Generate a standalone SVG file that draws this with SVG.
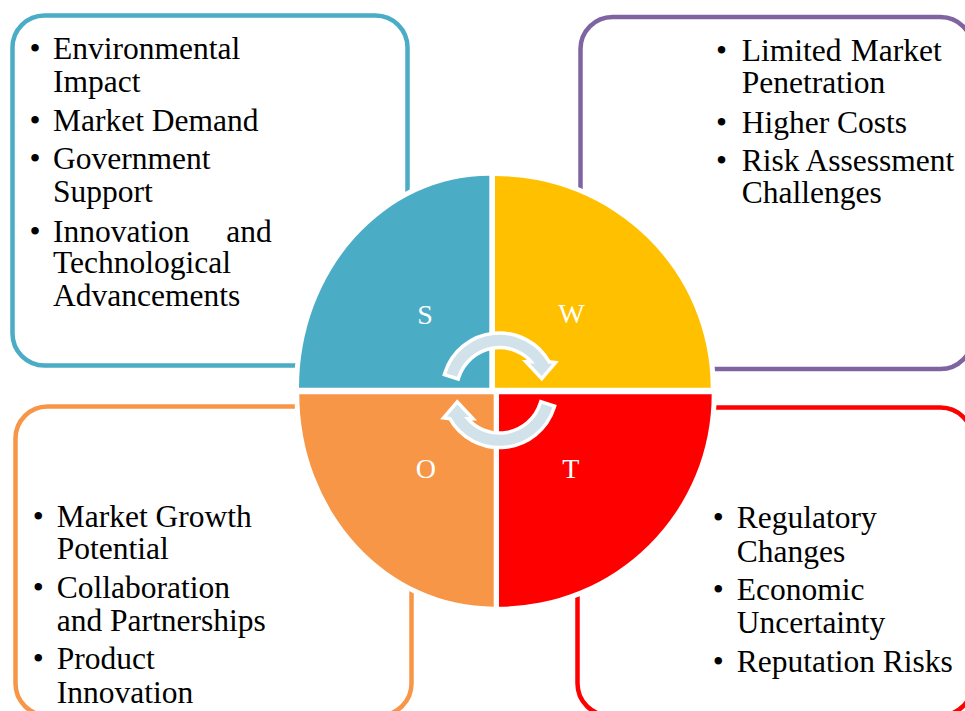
<svg xmlns="http://www.w3.org/2000/svg" width="965" height="711" viewBox="0 0 965 711">
  <style>
    .box { fill: #FFFFFF; stroke-width: 4.5; }
    .txt { font-family: "Liberation Serif", "Times New Roman", serif; font-size: 31.5px; fill: #000000; }
    .quad { stroke: #FFFFFF; stroke-width: 10; paint-order: stroke; }
    .letter { font-family: "Liberation Serif", "Times New Roman", serif; font-size: 28px; fill: #FFFFFF; text-anchor: middle; }
    .cyc { fill: #D2E2EA; stroke: #FFFFFF; stroke-width: 7; stroke-linejoin: miter; paint-order: stroke; }
  </style>
  <defs>
    <!-- circular arrow: arc band around (499.5, 390.3) with a head at its right end -->
    <path id="cycArrow" d="M 446.6 373.4 A 55.5 55.5 0 0 1 548.1 363.5 L 552 364 L 541.7 376 L 530 363.5 L 535 363.5 A 44.5 44.5 0 0 0 457.1 376.8 Z"/>
  </defs>
  <rect width="965" height="711" fill="#FFFFFF"/>

  <!-- Strengths -->
  <g id="box-strengths">
    <rect class="box" x="12.5" y="15.5" width="395" height="350" rx="32" stroke="#4BACC6"/>
    <g class="txt">
      <text x="29.5" y="59.3">•</text>
      <text x="53" y="59.3">Environmental</text>
      <text x="53" y="91.7">Impact</text>
      <text x="29.5" y="130.7">•</text>
      <text x="53" y="130.7">Market Demand</text>
      <text x="29.5" y="169.3">•</text>
      <text x="53" y="169.3">Government</text>
      <text x="53" y="201.7">Support</text>
      <text x="29.5" y="241.7">•</text>
      <text x="53" y="241.7">Innovation</text>
      <text x="271.7" y="241.7" text-anchor="end">and</text>
      <text x="53" y="273.3">Technological</text>
      <text x="53" y="306">Advancements</text>
    </g>
  </g>

  <!-- Weaknesses -->
  <g id="box-weaknesses">
    <rect class="box" x="580.5" y="17" width="392" height="352" rx="32" stroke="#8064A2"/>
    <g class="txt">
      <text x="716" y="61">•</text>
      <text x="741.7" y="61">Limited</text>
      <text x="941.7" y="61" text-anchor="end">Market</text>
      <text x="741.7" y="93.3">Penetration</text>
      <text x="716" y="132.7">•</text>
      <text x="741.7" y="132.7">Higher Costs</text>
      <text x="716" y="170.7">•</text>
      <text x="741.7" y="170.7">Risk Assessment</text>
      <text x="741.7" y="202.7">Challenges</text>
    </g>
  </g>

  <!-- Opportunities -->
  <g id="box-opportunities">
    <rect class="box" x="15.5" y="406.5" width="396" height="309" rx="32" stroke="#F79646"/>
    <g class="txt">
      <text x="32.8" y="526.7">•</text>
      <text x="56.7" y="526.7">Market Growth</text>
      <text x="56.7" y="559.3">Potential</text>
      <text x="32.8" y="598.3">•</text>
      <text x="56.7" y="598.3">Collaboration</text>
      <text x="56.7" y="630.7">and Partnerships</text>
      <text x="32.8" y="669.3">•</text>
      <text x="56.7" y="669.3">Product</text>
      <text x="56.7" y="702.7">Innovation</text>
    </g>
  </g>

  <!-- Threats -->
  <g id="box-threats">
    <rect class="box" x="577.5" y="407.5" width="395" height="308" rx="32" stroke="#FF0000"/>
    <g class="txt">
      <text x="712.8" y="528.3">•</text>
      <text x="736.7" y="528.3">Regulatory</text>
      <text x="736.7" y="561.7">Changes</text>
      <text x="712.8" y="600">•</text>
      <text x="736.7" y="600">Economic</text>
      <text x="736.7" y="632.7">Uncertainty</text>
      <text x="712.8" y="671.7">•</text>
      <text x="736.7" y="671.7">Reputation Risks</text>
    </g>
  </g>

  <!-- quadrant pie -->
  <g id="quad-s">
    <path class="quad" fill="#4BACC6" d="M 489.3 387.7 L 299 387.7 A 190.3 212 0 0 1 489.3 175.7 Z"/>
    <text class="letter" x="425" y="323.5">S</text>
  </g>
  <g id="quad-w">
    <path class="quad" fill="#FFC000" d="M 495 387.7 L 495 176 A 215.7 211.7 0 0 1 710.7 387.7 Z"/>
    <text class="letter" x="571.5" y="323.3">W</text>
  </g>
  <g id="quad-o">
    <path class="quad" fill="#F79646" d="M 493.7 394.3 L 493.7 606.7 A 194.4 212.4 0 0 1 299.3 394.3 Z"/>
    <text class="letter" x="425.8" y="477.5">O</text>
  </g>
  <g id="quad-t">
    <path class="quad" fill="#FF0000" d="M 499 394.3 L 711.7 394.3 A 212.7 212.4 0 0 1 499 606.7 Z"/>
    <text class="letter" x="570.8" y="477.7">T</text>
  </g>

  <!-- connectors: the two circular arrows -->
  <g id="connectors">
    <use href="#cycArrow" class="cyc"/>
    <use href="#cycArrow" class="cyc" transform="rotate(180 499.5 390.3)"/>
  </g>
</svg>
